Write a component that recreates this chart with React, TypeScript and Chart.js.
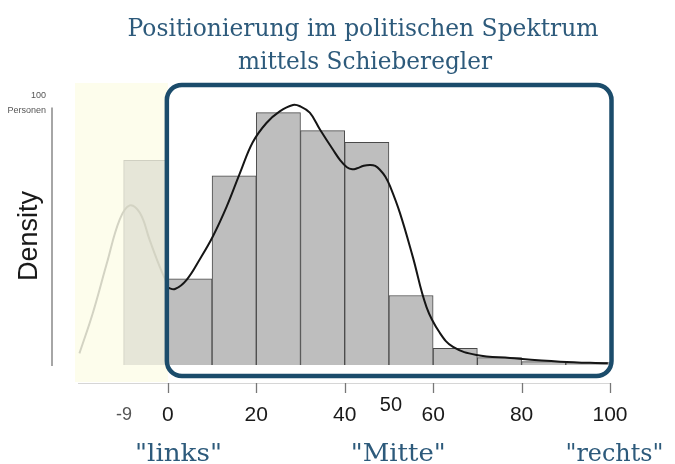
import React, { useEffect, useRef } from "react";
import { Chart, registerables } from "chart.js";

Chart.register(...registerables);

// ---- data ----
const binCenters = [-5, 5, 15, 25, 35, 45, 55, 65, 75, 85, 95];
const binDensity = [0.0159, 0.0067, 0.0147, 0.0196, 0.0182, 0.0173, 0.0054, 0.0013, 0.00057, 0.00026, 0.00018];

const curveX = [0, 1.6, 4.2, 7.2, 10.2, 13.3, 16.3, 19.2, 22.3, 25.3, 28.3, 29.9, 32.1, 34.4, 37.4, 39.0, 40.5, 41.7, 42.8, 44.3, 45.8, 46.9, 48.0, 49.2, 50.3, 52.5, 55.4, 58.5, 61.5, 64.5, 69.8, 77.4, 88.7, 99.5];
const curveY = [0.006, 0.0059, 0.0066, 0.0082, 0.01, 0.0123, 0.0149, 0.0173, 0.0188, 0.0197, 0.0202, 0.0201, 0.0196, 0.0183, 0.0167, 0.0159, 0.01536, 0.0152, 0.01528, 0.01548, 0.01554, 0.01546, 0.01515, 0.01463, 0.01385, 0.0118, 0.0084, 0.0045, 0.0025, 0.0014, 0.00078, 0.00054, 0.00026, 0.00013];

const leftCurveX = [-20, -17, -13.8, -10.9, -8.6, -6.3, -4.1, -1.8, 0];
const leftCurveY = [0.0009, 0.004, 0.0079, 0.0113, 0.0124, 0.0118, 0.0097, 0.0076, 0.0062];

const xTicks = [0, 20, 40, 60, 80, 100];
const extraTicks = [
  { value: -9, label: "-9" },
  { value: 50, label: "50" },
];
const titleLines = ["Positionierung im politischen Spektrum", "mittels Schieberegler"];
const poleLabels = ['"links"', '"Mitte"', '"rechts"'];
const polePositions = [2.4, 52.1, 101];
const poleWidths = [87, 95, 98];
const yAxisTop = 0.0200;
const yLabel = "Density";
const yTopLabels = ["100", "Personen"];

const TEXT_BLUE = "#2d5a7b";
const FRAME_BLUE = "#1b4c6b";

function drawFitted(ctx: CanvasRenderingContext2D, text: string, cx: number, y: number, width: number | null, font: string, color: string, rotate = false) {
  ctx.save();
  ctx.font = font;
  ctx.fillStyle = color;
  const w = ctx.measureText(text).width;
  ctx.translate(cx, y);
  if (rotate) ctx.rotate(-Math.PI / 2);
  if (width) ctx.scale(width / w, 1);
  ctx.textAlign = "center";
  ctx.textBaseline = "alphabetic";
  ctx.fillText(text, 0, 0);
  ctx.restore();
}

const decorPlugin = {
  id: "decor",
  beforeDatasetsDraw(chart: any) {
    const { ctx, chartArea, scales } = chart;
    const x = scales.x, y = scales.y;
    const y0 = y.getPixelForValue(0);
    ctx.save();
    ctx.fillStyle = "#fdfdec";
    const left = chartArea.left;
    const right = x.getPixelForValue(0);
    ctx.fillRect(left, chartArea.top - 2, right - left, y0 + 17 - (chartArea.top - 2));
    ctx.restore();
  },
  afterDatasetsDraw(chart: any) {
    const { ctx, chartArea, scales } = chart;
    const x = scales.x, y = scales.y;
    const y0 = y.getPixelForValue(0);
    const l = x.getPixelForValue(0) - 1;
    const r = x.getPixelForValue(100) + 1.5;
    const t = chartArea.top;
    const b = y0 + 11;
    ctx.save();
    ctx.strokeStyle = FRAME_BLUE;
    ctx.lineWidth = 4.5;
    ctx.beginPath();
    (ctx as any).roundRect(l, t, r - l, b - t, 15);
    ctx.stroke();
    ctx.restore();
  },
  afterDraw(chart: any) {
    const { ctx, chartArea, scales } = chart;
    const x = scales.x, y = scales.y;
    const y0 = y.getPixelForValue(0);
    ctx.save();
    // x axis line
    const axY = y0 + 18;
    ctx.strokeStyle = "#d6d6d6";
    ctx.lineWidth = 1;
    ctx.beginPath();
    ctx.moveTo(chartArea.left + 3, axY + 0.5);
    ctx.lineTo(x.getPixelForValue(100), axY + 0.5);
    ctx.stroke();
    // ticks
    ctx.strokeStyle = "#777";
    ctx.lineWidth = 1.3;
    xTicks.forEach((v) => {
      const px = Math.round(x.getPixelForValue(v)) + 0.5;
      ctx.beginPath();
      ctx.moveTo(px, axY);
      ctx.lineTo(px, axY + 10);
      ctx.stroke();
    });
    // tick labels
    ctx.fillStyle = "#1a1a1a";
    ctx.font = "21px 'Liberation Sans', Arial, sans-serif";
    ctx.textAlign = "center";
    ctx.textBaseline = "middle";
    xTicks.forEach((v) => {
      ctx.fillText(String(v), x.getPixelForValue(v), y0 + 50);
    });
    extraTicks.forEach((t) => {
      if (t.value < 0) {
        ctx.fillStyle = "#555";
        ctx.font = "18px 'Liberation Sans', Arial, sans-serif";
        ctx.fillText(t.label, x.getPixelForValue(t.value) - 4, y0 + 50);
      } else {
        ctx.fillStyle = "#1a1a1a";
        ctx.font = "20px 'Liberation Sans', Arial, sans-serif";
        ctx.fillText(t.label, x.getPixelForValue(t.value) + 2, y0 + 40);
      }
    });
    // y axis line
    ctx.strokeStyle = "#888";
    ctx.lineWidth = 1.5;
    ctx.beginPath();
    ctx.moveTo(52, y.getPixelForValue(yAxisTop));
    ctx.lineTo(52, y0 + 1);
    ctx.stroke();
    // small labels at top of y axis
    ctx.fillStyle = "#555";
    ctx.font = "9px 'Liberation Sans', Arial, sans-serif";
    ctx.textAlign = "right";
    ctx.fillText(yTopLabels[0], 46, y.getPixelForValue(yAxisTop) - 12);
    ctx.fillText(yTopLabels[1], 46, y.getPixelForValue(yAxisTop) + 3);
    ctx.restore();

    // Density label
    drawFitted(ctx, yLabel, 37, 236, null, "27px 'Liberation Sans', Arial, sans-serif", "#1a1a1a", true);

    // title
    drawFitted(ctx, titleLines[0], 363, 36, 471, "24px 'DejaVu Serif', serif", TEXT_BLUE);
    drawFitted(ctx, titleLines[1], 365, 69, 254, "24px 'DejaVu Serif', serif", TEXT_BLUE);

    // pole labels
    poleLabels.forEach((lab, i) => {
      drawFitted(ctx, lab, x.getPixelForValue(polePositions[i]), y0 + 96, poleWidths[i], "24px 'DejaVu Serif', serif", TEXT_BLUE);
    });
  },
};

export default function App() {
  const ref = useRef<HTMLCanvasElement | null>(null);
  useEffect(() => {
    document.body.style.margin = "0";
    const canvas = ref.current!;
    const barBg = binCenters.map((c) => (c < 0 ? "#e6e6d8" : "#bebebe"));
    const barBorder = binCenters.map((c) => (c < 0 ? "#d0d0c2" : "#4a4a4a"));
    const chart = new Chart(canvas, {
      type: "bar",
      data: {
        datasets: [
          {
            type: "line",
            data: curveX.map((xv, i) => ({ x: xv, y: curveY[i] })),
            borderColor: "#151515",
            borderWidth: 2,
            pointRadius: 0,
            tension: 0.4,
            order: 1,
          } as any,
          {
            type: "line",
            data: leftCurveX.map((xv, i) => ({ x: xv, y: leftCurveY[i] })),
            borderColor: "#d3d3c3",
            borderWidth: 2,
            pointRadius: 0,
            tension: 0.4,
            order: 1,
          } as any,
          {
            type: "bar",
            data: binCenters.map((c, i) => ({ x: c, y: binDensity[i] })),
            backgroundColor: barBg,
            borderColor: barBorder,
            borderWidth: 1,
            barPercentage: 1,
            categoryPercentage: 1,
            order: 2,
          } as any,
        ],
      },
      options: {
        responsive: false,
        animation: false,
        events: [],
        layout: { padding: { left: 75, right: 65, top: 85, bottom: 99 } },
        plugins: { legend: { display: false }, title: { display: false }, tooltip: { enabled: false } },
        scales: {
          x: { type: "linear", min: -21, max: 100, offset: false, display: false },
          y: { type: "linear", min: 0, max: 0.02175, display: false },
        },
      } as any,
      plugins: [decorPlugin],
    });
    return () => chart.destroy();
  }, []);
  return (
    <div style={{ width: 675, height: 464, background: "#fff" }}>
      <canvas ref={ref} width={675} height={464} style={{ display: "block" }} />
    </div>
  );
}
